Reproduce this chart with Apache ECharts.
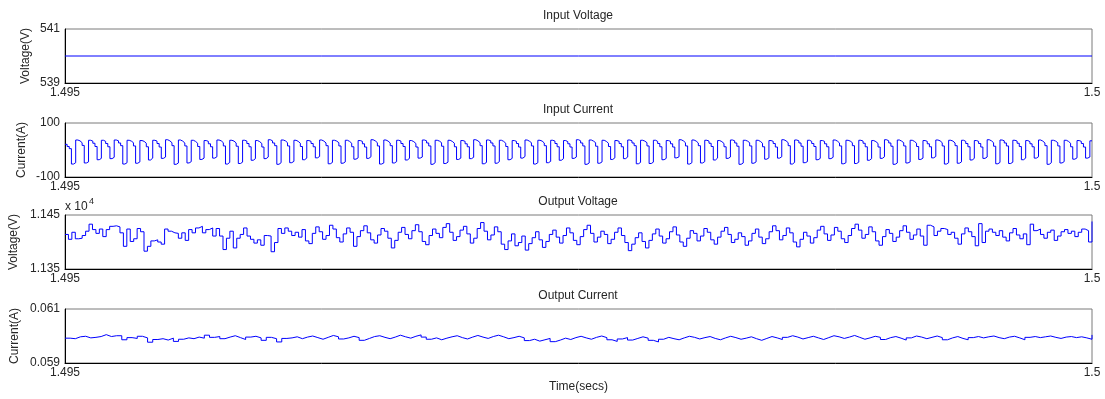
<!DOCTYPE html>
<html>
<head>
<meta charset="utf-8">
<title>Scope</title>
<script src="https://cdn.jsdelivr.net/npm/echarts@6/dist/echarts.min.js"></script>
<style>
    html, body {margin: 0; padding: 0; background: #fff;}
    #scope {width: 1105px; height: 399px;}
</style>
</head>
<body>
<div id="scope"></div>

<script>
    var tStart = 1.495, tEnd = 1.5;
    var titles = ['Input Voltage', 'Input Current', 'Output Voltage', 'Output Current'];
    var yNames = ['Voltage(V)', 'Current(A)', 'Voltage(V)', 'Current(A)'];
    var yMin = [539, -100, 11350, 0.059];
    var yMax = [541, 100, 11450, 0.061];
    var yStep = [1, 100, 50, 0.001];
    var yLabelsMin = ['539', '-100', '1.135', '0.059'];
    var yLabelsMax = ['541', '100', '1.145', '0.061'];
    var xLabels = ['1.495', '1.5'];

    var inputVoltage = [540, 540];

    var inputCurrent = [
        21, 13, 5, -52, -47,
        37, 34, 27, 17, -48, -44,   36, 33, 25, 13, -36, -31,   36, 32, 24, 12, -32, -27,   37, 34, 26, 16, -52, -47,
        36, 33, 27, 15, -49, -44,   35, 32, 25, 12, -37, -30,   36, 33, 24, 11, -31, -26,   38, 34, 27, 16, -53, -48,
        37, 33, 26, 15, -48, -43,   36, 32, 25, 13, -35, -30,   35, 32, 23, 12, -30, -25,   37, 34, 27, 15, -52, -46,
        36, 33, 26, 14, -50, -45,   36, 33, 24, 12, -38, -32,   35, 31, 24, 11, -32, -26,   38, 34, 26, 16, -53, -47,
        37, 34, 27, 15, -47, -42,   36, 32, 25, 13, -36, -30,   35, 32, 24, 12, -29, -24,   37, 33, 26, 16, -51, -46,
        36, 33, 27, 15, -49, -44,   36, 32, 25, 12, -34, -29,   35, 32, 23, 11, -31, -25,   38, 34, 27, 15, -52, -48,
        37, 33, 26, 16, -48, -43,   36, 33, 24, 13, -37, -31,   35, 31, 24, 11, -30, -26,   37, 34, 26, 15, -53, -47,
        36, 33, 27, 14, -50, -45,   36, 32, 25, 12, -35, -30,   35, 32, 23, 12, -32, -27,   38, 34, 27, 16, -51, -46,
        37, 34, 26, 15, -49, -43,   36, 32, 25, 13, -36, -31,   35, 32, 24, 11, -30, -24,   37, 33, 27, 15, -52, -47,
        36, 33, 26, 16, -47, -42,   36, 33, 24, 12, -38, -32,   35, 31, 23, 11, -31, -26,   38, 34, 26, 15, -53, -48,
        37, 33, 27, 14, -49, -44,   36, 32, 25, 13, -35, -29,   35, 32, 24, 12, -32, -26,   37, 34, 26, 16, -51, -46,
        36, 33, 27, 15, -50, -45,   36, 32, 24, 12, -36, -31,   35, 32, 23, 11, -29, -25,   38, 34, 27, 15, -52, -47,
        37, 33, 26, 16, -48, -43,   36, 33, 25, 13, -37, -30,   35, 31, 24, 12, -31, -26,   37, 34, 26, 14, -53, -48,
        36, 33, 27, 15, -49, -44,   36, 32, 25, 12, -34, -29,   35, 32, 24, 11, -30, -25,   38, 34, 27, 16, -52, -46,
        37, 34, 26, 14, -47, -43,   36, 32, 24, 13, -36, -31,   35, 32, 23, 12, -32, -27,   37, 33, 26, 15, -51, -47,
        36, 33, 27, 16, -50, -45,   36, 33, 25, 12, -38, -32,   35, 31, 24, 11, -31, -25,   38, 34, 26, 14, -53, -48,
        37, 33, 27, 15, -48, -44,   36, 32, 25, 13, -35, -30,   35, 32, 23, 12, -29, -24,   37, 34, 27, 15, -52, -47,
        36, 33, 26, 16, -49, -44,   36, 32, 24, 12, -37, -31,   35, 32, 24, 11, -31, -26,   38, 34, 27, 14, -51, -46,
        37, 34, 26, 15, -50, -45,   36, 33, 25, 13, -36, -30,   35, 31, 23, 12, -30, -25,   37, 33, 26, 16, -53, -47,
        36, 33, 27, 15, -48, -43,   36, 32, 25, 12, -34, -29,   35, 32, 24, 11, -30, -26,
        34, 33
    ];

    var outputVoltage = [
        11414, 11405, 11418, 11406, 11407, 11412, 11420, 11433, 11423, 11416,
        11424, 11410, 11423, 11429, 11430, 11428, 11417, 11392, 11424, 11401,
        11406, 11425, 11419, 11383, 11392, 11402, 11404, 11400, 11396, 11424,
        11420, 11417, 11416, 11407, 11417, 11403, 11423, 11417, 11426, 11429,
        11417, 11423, 11426, 11411, 11425, 11411, 11386, 11407, 11420, 11389,
        11407, 11414, 11426, 11411, 11405, 11398, 11404, 11394, 11412, 11411,
        11382, 11399, 11425, 11416, 11426, 11420, 11412, 11418, 11409,
        11423, 11402, 11397, 11416, 11428, 11419, 11405, 11412, 11431, 11424,
        11408, 11400, 11415, 11426, 11418, 11392, 11410, 11421, 11430, 11417,
        11404, 11398, 11413, 11425, 11420, 11407, 11389, 11403, 11418, 11427, 11414,
        11406, 11421, 11432, 11419, 11401, 11395, 11412, 11424, 11416, 11408,
        11427, 11434, 11418, 11403, 11410, 11422, 11429, 11415, 11398, 11407,
        11425, 11436, 11420, 11404, 11413, 11428, 11419, 11396, 11386, 11402,
        11415, 11393, 11399, 11411, 11385, 11397, 11408, 11419, 11404, 11390,
        11401, 11414, 11422, 11409, 11398, 11412, 11426, 11417, 11403, 11395,
        11410, 11423, 11431, 11416, 11400, 11409, 11420, 11414, 11397, 11405,
        11418, 11426, 11412, 11399, 11384, 11396, 11408, 11417, 11401, 11389,
        11403, 11415, 11424, 11411, 11398, 11406, 11419, 11428, 11413, 11400,
        11392, 11407, 11421, 11416, 11402, 11411, 11425, 11418, 11404, 11396,
        11409, 11420, 11427, 11414, 11399, 11405, 11417, 11410, 11394, 11402,
        11416, 11424, 11409, 11397, 11406, 11419, 11430, 11421, 11404, 11412,
        11426, 11417, 11400, 11391, 11405, 11418, 11411, 11398, 11408, 11422,
        11429, 11415, 11403, 11413, 11427, 11420, 11406, 11399, 11412, 11425,
        11433, 11422, 11407, 11414, 11428, 11419, 11402, 11394, 11410, 11423,
        11416, 11401, 11409, 11421, 11430, 11418, 11405, 11413, 11424, 11411,
        11394, 11431, 11428, 11412, 11420, 11425, 11423, 11414, 11418, 11407,
        11396, 11415, 11426, 11419, 11410, 11393, 11434, 11399, 11420, 11424,
        11418, 11412, 11421, 11409, 11402, 11417, 11425, 11413, 11406, 11415,
        11395, 11433, 11421, 11424, 11414, 11407, 11418, 11422, 11403, 11411,
        11419, 11423, 11416, 11420, 11410, 11418, 11424, 11421, 11400, 11438
    ];

    var outputCurrent = [
        0.05992, 0.05990, 0.05997, 0.05999, 0.05993, 0.05995, 0.05998, 0.06005, 0.05998, 0.06001,
        0.06001, 0.05986, 0.05994, 0.05991, 0.05999, 0.05993, 0.05977, 0.05987, 0.05990, 0.05985,
        0.05992, 0.05980, 0.05988, 0.05993, 0.05990, 0.05996, 0.05992, 0.06003, 0.05995, 0.05998,
        0.05990, 0.05996, 0.06001, 0.05994, 0.05987, 0.05996, 0.05999, 0.05993, 0.05984, 0.05995,
        0.05990, 0.05978, 0.05991, 0.05993, 0.05997, 0.05990, 0.05996, 0.06000, 0.05994, 0.05988,
        0.05995, 0.06002, 0.05997, 0.05989, 0.05993, 0.05999, 0.05994, 0.05984, 0.05991, 0.05998,
        0.06001, 0.05995, 0.05990, 0.05996, 0.06003, 0.05997, 0.05992, 0.05999, 0.06004, 0.05996,
        0.05988, 0.05993, 0.05986, 0.05992, 0.05997, 0.06001, 0.05994, 0.05989, 0.05996, 0.06002,
        0.05996, 0.05991, 0.05998, 0.06003, 0.05997, 0.05990, 0.05994, 0.05999, 0.05993, 0.05983,
        0.05988, 0.05981, 0.05986, 0.05991, 0.05979, 0.05985, 0.05992, 0.05987, 0.05994, 0.05999,
        0.05993, 0.05988, 0.05995, 0.06000, 0.05994, 0.05986, 0.05980, 0.05989, 0.05994, 0.05985,
        0.05991, 0.05997, 0.05992, 0.05984, 0.05978, 0.05988, 0.05995, 0.05990, 0.05986, 0.05993,
        0.05999, 0.05995, 0.05989, 0.05994, 0.05998, 0.05991, 0.05986, 0.05993, 0.05999, 0.05994,
        0.05988, 0.05992, 0.05997, 0.05990, 0.05984, 0.05991, 0.05998, 0.05993, 0.05987, 0.05995,
        0.06001, 0.05996, 0.05989, 0.05994, 0.05999, 0.05993, 0.05987, 0.05994, 0.06001, 0.05997,
        0.05991, 0.05996, 0.06002, 0.05995, 0.05988, 0.05993, 0.05999, 0.05995, 0.05987, 0.05994,
        0.05998, 0.05992, 0.05985, 0.05993, 0.06000, 0.05996, 0.05990, 0.05995, 0.06000, 0.05994,
        0.05986, 0.05993, 0.05998, 0.05991, 0.05986, 0.05994, 0.05998, 0.05993, 0.05997, 0.06000,
        0.05994, 0.05990, 0.05996, 0.05999, 0.05993, 0.05986, 0.05995, 0.05998, 0.05994, 0.05997,
        0.06000, 0.05995, 0.05991, 0.05996, 0.05998, 0.05994, 0.05997, 0.05993, 0.05988, 0.06004
    ];

    var signals = [inputVoltage, inputCurrent, outputVoltage, outputCurrent];

    // spread the samples evenly over the time window
    function toPoints(values) {
        var dt = (tEnd - tStart) / (values.length - 1);
        return values.map(function (v, i) {
            return [tStart + i * dt, v];
        });
    }

    var font = "'Liberation Sans', Arial, sans-serif";
    var textColor = '#262626';
    var boxTops = [29, 123, 215, 309];
    var boxHeight = 54;
    var nameX = [26, 22, 14, 15];

    var grid = [], xAxis = [], yAxis = [], series = [], title = [];
    var graphic = [
        {type: 'text', left: 65, top: 201, style: {text: 'x 10', fontSize: 12, fill: textColor, fontFamily: font}},
        {type: 'text', left: 89, top: 197, style: {text: '4', fontSize: 9, fill: textColor, fontFamily: font}}
    ];
    boxTops.forEach(function (top, i) {
        grid.push({
            left: 65, right: 13, top: top, height: boxHeight,
            show: true, borderColor: '#7a7a7a', borderWidth: 1, backgroundColor: '#fff'
        });
        title.push({
            text: titles[i], left: 578, top: top - 19, textAlign: 'center', padding: 0,
            textStyle: {fontSize: 12, fontWeight: 'normal', color: textColor, fontFamily: font}
        });
        // ylabel sits left of the tick labels, like the scope window
        graphic.push({
            type: 'text', x: nameX[i], y: top + boxHeight / 2, rotation: Math.PI / 2,
            style: {
                text: yNames[i], fontSize: 12, fill: textColor, fontFamily: font,
                align: 'center', verticalAlign: 'middle'
            }
        });
        xAxis.push({
            type: 'value', gridIndex: i, min: tStart, max: tEnd, interval: 0.005,
            axisLine: {onZero: false, lineStyle: {color: '#000'}},
            axisTick: {show: false},
            splitLine: {show: false},
            axisLabel: {
                margin: 4, fontSize: 12, color: textColor, fontFamily: font,
                formatter: function (v) {
                    return Math.abs(v - tEnd) < 1e-9 ? xLabels[1] : xLabels[0];
                }
            },
            name: i === 3 ? 'Time(secs)' : '',
            nameLocation: 'middle', nameGap: 18,
            nameTextStyle: {fontSize: 12, color: textColor, fontFamily: font}
        });
        yAxis.push({
            type: 'value', gridIndex: i, min: yMin[i], max: yMax[i], interval: yStep[i],
            axisLine: {show: true, onZero: false, lineStyle: {color: '#000'}},
            axisTick: {show: false},
            splitLine: {show: false},
            axisLabel: {
                margin: 5, fontSize: 12, color: textColor, fontFamily: font,
                formatter: function (v) {
                    var eps = yStep[i] * 1e-6;
                    if (Math.abs(v - yMin[i]) < eps) return yLabelsMin[i];
                    if (Math.abs(v - yMax[i]) < eps) return yLabelsMax[i];
                    return '';
                }
            }
        });
        series.push({
            type: 'line', xAxisIndex: i, yAxisIndex: i, step: 'end',
            symbol: 'none', silent: true,
            lineStyle: {color: '#0000ff', width: 1},
            data: toPoints(signals[i])
        });
    });

    var chart = echarts.init(document.getElementById('scope'));
    chart.setOption({
        animation: false,
        backgroundColor: '#fff',
        title: title,
        grid: grid,
        xAxis: xAxis,
        yAxis: yAxis,
        series: series,
        graphic: graphic
    });
</script>
</body>
</html>
